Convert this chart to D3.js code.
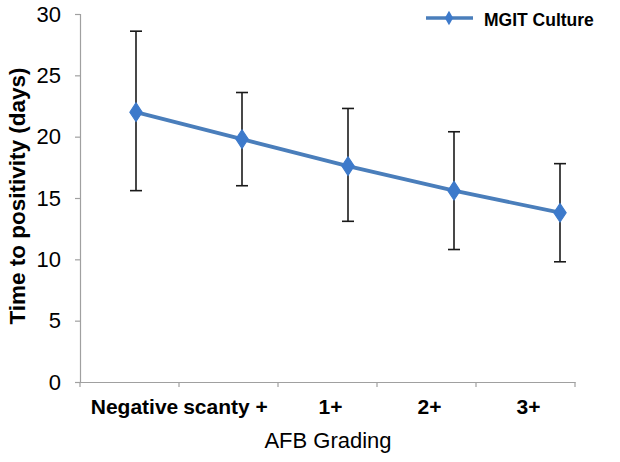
<!DOCTYPE html>
<html><head><meta charset="utf-8">
<script src="https://cdn.jsdelivr.net/npm/d3@7"></script>
<style>body{margin:0;background:#fff}svg{display:block}text{font-family:"Liberation Sans",Arial,sans-serif;fill:#000}</style>
</head><body><svg id="c" width="620" height="462"></svg>
<script>
const categories = ["Negative", "scanty +", "1+", "2+", "3+"];
const means = [22.0, 19.8, 17.6, 15.6, 13.8];
const upper = [28.6, 23.6, 22.3, 20.4, 17.8];
const lower = [15.6, 16.0, 13.1, 10.8, 9.8];
const yTicks = [0, 5, 10, 15, 20, 25, 30];
const seriesName = "MGIT Culture";

const svg = d3.select("#c");
const y = d3.scaleLinear().domain([0, 30]).range([382, 14]);
const xBand = d3.scaleBand().domain(categories).range([80, 575]);
const xPt = d3.scalePoint().domain(categories).range([136, 560]);
const blue = "#4a7ebb";

// y axis
const ya = svg.append("g").attr("transform", "translate(80,0)")
  .call(d3.axisLeft(y).tickValues(yTicks).tickSize(5).tickPadding(14));
ya.select(".domain").attr("stroke", "#a0a0a0").attr("stroke-width", 1.2);
ya.selectAll(".tick line").attr("stroke", "#a0a0a0").attr("stroke-width", 1.2);
ya.selectAll(".tick text").style("font-size", "22px").style("font-family", "'Liberation Sans',Arial,sans-serif").attr("fill", "#000");

// x axis
const xa = svg.append("g").attr("transform", "translate(0,382)")
  .call(d3.axisBottom(xBand).tickSize(0).tickPadding(20));
xa.select(".domain").attr("stroke", "#a0a0a0").attr("stroke-width", 1.2);
xa.selectAll(".tick text").style("font-size", "21px").style("font-weight", "bold")
  .style("font-family", "'Liberation Sans',Arial,sans-serif").attr("fill", "#000")
  .attr("dx", (d, i) => i === 0 ? 5 : (i === 1 ? -3 : 3)).attr("dy", "0.55em");
const bounds = categories.map(c => xBand(c)).concat([xBand.range()[1]]);
svg.append("g").selectAll("line").data(bounds).join("line")
  .attr("x1", d => d).attr("x2", d => d).attr("y1", 382).attr("y2", 387)
  .attr("stroke", "#a0a0a0").attr("stroke-width", 1.2);

// axis titles
svg.append("text").attr("x", 328).attr("y", 448).attr("text-anchor", "middle")
  .style("font-size", "22px").style("font-weight", "500").text("AFB Grading");
svg.append("text").attr("transform", "translate(25,196) rotate(-90)").attr("text-anchor", "middle")
  .style("font-size", "22.5px").style("font-weight", "bold").text("Time to positivity (days)");

// error bars
const eb = svg.append("g").attr("stroke", "#1a1a1a").attr("stroke-width", 1.6);
categories.forEach((c, i) => {
  const x = xPt(c);
  eb.append("line").attr("x1", x).attr("x2", x).attr("y1", y(upper[i])).attr("y2", y(lower[i]));
  eb.append("line").attr("x1", x - 6).attr("x2", x + 6).attr("y1", y(upper[i])).attr("y2", y(upper[i]));
  eb.append("line").attr("x1", x - 6).attr("x2", x + 6).attr("y1", y(lower[i])).attr("y2", y(lower[i]));
});

// line
const line = d3.line().x((d, i) => xPt(categories[i])).y(d => y(d));
svg.append("path").datum(means).attr("d", line).attr("fill", "none")
  .attr("stroke", blue).attr("stroke-width", 3.8);
const diamond = d3.symbol().type(d3.symbolDiamond).size(100);
svg.append("g").selectAll("path").data(means).join("path")
  .attr("d", diamond)
  .attr("transform", (d, i) => `translate(${xPt(categories[i])},${y(d)}) scale(1.15,1)`)
  .attr("fill", "#3d7acb").attr("stroke", "#3d7acb").attr("stroke-width", 1);

// legend
svg.append("line").attr("x1", 426).attr("x2", 473).attr("y1", 18).attr("y2", 18)
  .attr("stroke", blue).attr("stroke-width", 3.5);
svg.append("path").attr("d", d3.symbol().type(d3.symbolDiamond).size(60))
  .attr("transform", "translate(449,18)").attr("fill", "#3d7acb");
svg.append("text").attr("x", 484).attr("y", 26).style("font-size", "17.5px")
  .style("font-weight", "bold").text(seriesName);
</script></body></html>
